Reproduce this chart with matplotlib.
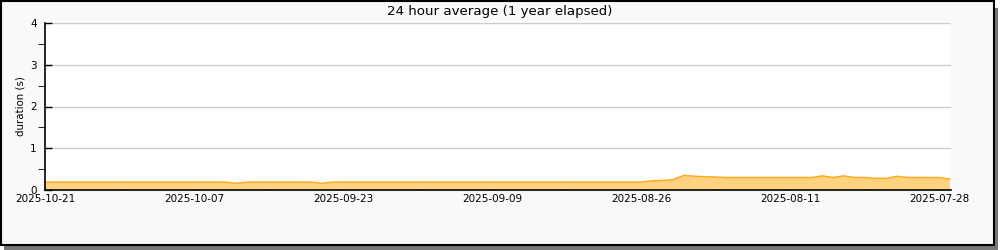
import numpy as np
import matplotlib
matplotlib.use("Agg")
import matplotlib.pyplot as plt
from matplotlib.patches import Rectangle

# ---------- data ----------
days_ago = list(range(0, 86))
duration = ([0.19] * 18 + [0.16] + [0.19] * 7 + [0.16] + [0.19] * 30 +
            [0.22, 0.23, 0.25, 0.35, 0.33, 0.32, 0.31] +
            [0.30] * 9 + [0.34, 0.30, 0.34, 0.30, 0.30, 0.28, 0.28, 0.33] +
            [0.30] * 4 + [0.26])
tick_days = [0, 14, 28, 42, 56, 70, 84]
tick_labels = ["2025-10-21", "2025-10-07", "2025-09-23", "2025-09-09",
               "2025-08-26", "2025-08-11", "2025-07-28"]

FILL = "#fed27f"
EDGE = "#ffa81a"

fig = plt.figure(figsize=(10, 2.5), dpi=100)
fig.patch.set_facecolor("white")

# outer frame with drop shadow
W, H = 1000.0, 250.0
fig.patches.append(Rectangle((4 / W, 0), 994 / W, 242 / H, transform=fig.transFigure,
                             facecolor="#777777", edgecolor="none", zorder=0))
fig.patches.append(Rectangle((1 / W, 5.5 / H), 993 / W, 243.5 / H, transform=fig.transFigure,
                             facecolor="#f9f9f9", edgecolor="black", linewidth=1.5, zorder=1))

ax = fig.add_axes([45 / W, 1 - 190 / H, 906 / W, 167 / H])
ax.set_zorder(5)
ax.set_facecolor("white")
ax.fill_between(days_ago, duration, 0, facecolor=FILL, edgecolor="none", zorder=2)
ax.plot(days_ago, duration, color=EDGE, linewidth=1, zorder=3)

ax.set_xlim(0, 85.1)
ax.set_ylim(0, 4)
ax.set_xticks(range(0, 85, 7))
ax.set_xticklabels([tick_labels[tick_days.index(d)] if d in tick_days else "" for d in range(0, 85, 7)])
ax.set_yticks([0, 1, 2, 3, 4])
ax.set_yticks(np.arange(0.5, 4, 1), minor=True)
ax.tick_params(axis="both", direction="in", labelsize=7.5, colors="black", width=1)
ax.tick_params(axis="x", length=6, pad=3)
ax.tick_params(axis="y", which="both", length=5, pad=6)
ax.grid(axis="y", color="#cccccc", linewidth=1, zorder=1)
ax.set_axisbelow(True)
for s in ("top", "right"):
    ax.spines[s].set_visible(False)
for s in ("left", "bottom"):
    ax.spines[s].set_linewidth(1.2)
    ax.spines[s].set_zorder(4)

ax.set_ylabel("duration (s)", fontsize=7.4, labelpad=3)
fig.text(0.5, 1 - 11 / H, "24 hour average (1 year elapsed)", ha="center", va="center",
         fontsize=9.6, zorder=6)

fig.savefig("out.png", dpi=100, facecolor=fig.get_facecolor())
